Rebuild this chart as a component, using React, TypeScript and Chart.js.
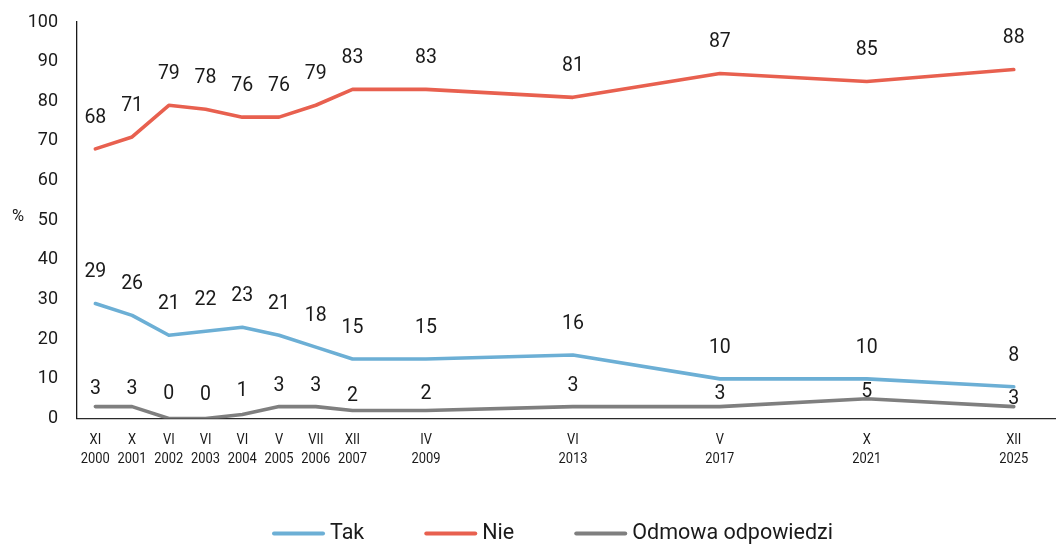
import React, { useEffect, useRef } from "react";
import { Chart, registerables } from "chart.js";

Chart.register(...registerables);

const years = [2000, 2001, 2002, 2003, 2004, 2005, 2006, 2007, 2009, 2013, 2017, 2021, 2025];
const months = ["XI", "X", "VI", "VI", "VI", "V", "VII", "XII", "IV", "VI", "V", "X", "XII"];
const takValues = [29, 26, 21, 22, 23, 21, 18, 15, 15, 16, 10, 10, 8];
const nieValues = [68, 71, 79, 78, 76, 76, 79, 83, 83, 81, 87, 85, 88];
const odmowaValues = [3, 3, 0, 0, 1, 3, 3, 2, 2, 3, 3, 5, 3];
const seriesNames = ["Tak", "Nie", "Odmowa odpowiedzi"];
const yTicks = [0, 10, 20, 30, 40, 50, 60, 70, 80, 90, 100];

// label lift above each point (style only)
const takLabelLift = 31;
const nieLabelLift = 31;
const odmowaLabelLift = [17, 17, 24, 23, 23, 20, 20, 14, 16, 20, 12, 7, 7];

const COLORS = ["#6cafd5", "#e8604f", "#7f7f7f"];
const FONT = "Roboto";
const TEXT = "#1a1a1a";

const toPoints = (vals: number[]) => vals.map((v, i) => ({ x: years[i], y: v }));

const labelsPlugin = {
  id: "pointLabels",
  afterDatasetsDraw(chart: any) {
    const ctx = chart.ctx;
    ctx.save();
    ctx.font = `19.5px ${FONT}`;
    ctx.fillStyle = TEXT;
    ctx.textAlign = "center";
    ctx.textBaseline = "middle";
    chart.data.datasets.forEach((ds: any, di: number) => {
      const meta = chart.getDatasetMeta(di);
      meta.data.forEach((el: any, i: number) => {
        const lift = Array.isArray(ds.labelLift) ? ds.labelLift[i] : ds.labelLift;
        ctx.fillText(String(ds.data[i].y), el.x, el.y - lift);
      });
    });
    ctx.restore();
  },
};

const xLabelsPlugin = {
  id: "xLabels",
  afterDraw(chart: any) {
    const ctx = chart.ctx;
    const xs = chart.scales.x;
    const bottom = chart.chartArea.bottom;
    ctx.save();
    ctx.font = `15px ${FONT}`;
    ctx.fillStyle = TEXT;
    ctx.textAlign = "center";
    ctx.textBaseline = "middle";
    const sx = 0.86;
    years.forEach((yr, i) => {
      const px = xs.getPixelForValue(yr);
      ctx.save();
      ctx.translate(px, 0);
      ctx.scale(sx, 1);
      ctx.fillText(months[i], 0, bottom + 21.5);
      ctx.fillText(String(yr), 0, bottom + 40.5);
      ctx.restore();
    });
    // axis unit
    ctx.font = `16.5px ${FONT}`;
    ctx.fillText("%", 18, 217);
    ctx.restore();
  },
};

const legendPlugin = {
  id: "customLegend",
  afterDraw(chart: any) {
    const ctx = chart.ctx;
    ctx.save();
    ctx.font = `21.5px ${FONT}`;
    ctx.textBaseline = "middle";
    ctx.textAlign = "left";
    const lineLen = 53;
    const gap = 5;
    const spacing = 60;
    const ds = chart.data.datasets;
    const widths = ds.map((d: any) => lineLen + gap + ctx.measureText(d.label).width);
    const total = widths.reduce((a: number, b: number) => a + b, 0) + spacing * (ds.length - 1);
    let x = 552.5 - total / 2;
    const y = 533.5;
    ds.forEach((d: any, i: number) => {
      ctx.strokeStyle = d.borderColor;
      ctx.lineWidth = 4;
      ctx.lineCap = "round";
      ctx.beginPath();
      ctx.moveTo(x + 2, y);
      ctx.lineTo(x + lineLen - 2, y);
      ctx.stroke();
      ctx.fillStyle = TEXT;
      ctx.fillText(d.label, x + lineLen + gap, y);
      x += widths[i] + spacing;
    });
    ctx.restore();
  },
};

export default function App() {
  const ref = useRef<HTMLCanvasElement>(null);
  useEffect(() => {
    if (!ref.current) return;
    const mk = (label: string, vals: number[], color: string, lift: any) => ({
      label,
      data: toPoints(vals),
      borderColor: color,
      backgroundColor: color,
      borderWidth: 3.6,
      pointRadius: 0,
      tension: 0,
      borderJoinStyle: "round",
      borderCapStyle: "round",
      labelLift: lift,
    });
    const chart = new Chart(ref.current, {
      type: "line",
      data: {
        datasets: [
          mk(seriesNames[0], takValues, COLORS[0], takLabelLift),
          mk(seriesNames[1], nieValues, COLORS[1], nieLabelLift),
          mk(seriesNames[2], odmowaValues, COLORS[2], odmowaLabelLift),
        ] as any,
      },
      options: {
        animation: false,
        responsive: true,
        maintainAspectRatio: false,
        layout: { padding: { top: 22, bottom: 125.5, left: 0, right: 0 } },
        plugins: { legend: { display: false }, tooltip: { enabled: false } },
        scales: {
          x: {
            type: "linear",
            min: 1999.5,
            max: 2026.15,
            grid: { display: false, drawTicks: false },
            border: { display: true, color: "#2a2a2a", width: 1.3 },
            ticks: { display: false },
            afterBuildTicks: (s: any) => {
              s.ticks = years.map((v) => ({ value: v }));
            },
            afterFit: (s: any) => {
              s.height = 0;
              s.paddingLeft = 0;
              s.paddingRight = 0;
            },
          },
          y: {
            min: 0,
            max: 100,
            grid: { display: false, drawTicks: false },
            border: { display: true, color: "#1a1a1a", width: 1.3 },
            afterBuildTicks: (s: any) => {
              s.ticks = yTicks.map((v) => ({ value: v }));
            },
            ticks: {
              padding: 19,
              color: TEXT,
              font: { family: FONT, size: 18 },
            },
            afterFit: (s: any) => {
              s.width = 77;
              s.paddingTop = 0;
              s.paddingBottom = 0;
            },
          },
        },
      },
      plugins: [labelsPlugin, xLabelsPlugin, legendPlugin],
    });
    return () => chart.destroy();
  }, []);
  return (
    <div style={{ position: "fixed", left: 0, top: 0, width: 1056, height: 544, background: "#fff" }}>
      <canvas ref={ref} />
    </div>
  );
}
